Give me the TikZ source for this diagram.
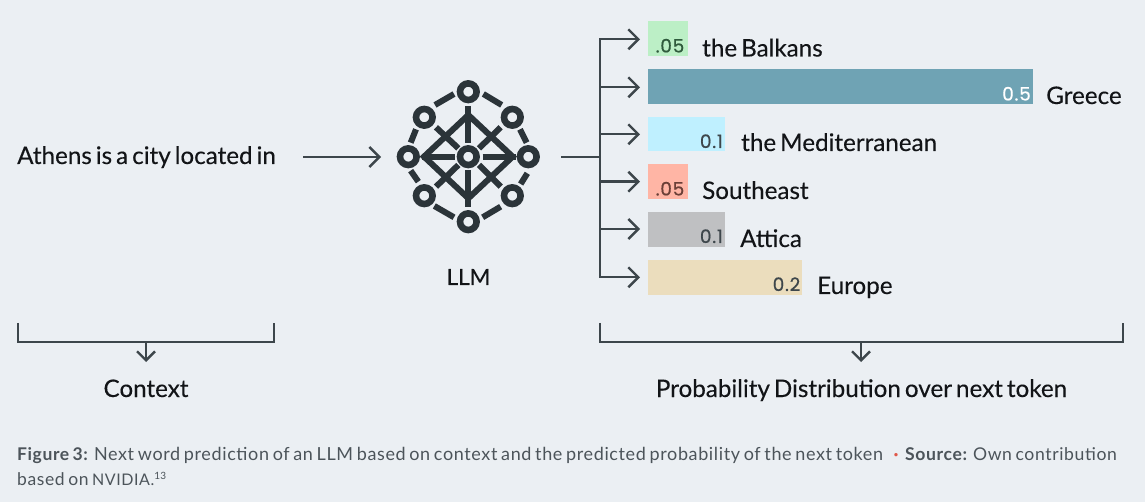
\documentclass[tikz,border=0pt]{standalone}
\usepackage{fontspec}
\setmainfont{Lato}
\newfontfamily\valfont[FakeBold=0.6,LetterSpace=4]{Poppins}
\newfontfamily\lblfont[FakeBold=0.2,WordSpace=0.65]{Lato}
\newfontfamily\capfont[LetterSpace=3.5,WordSpace=0.7]{Lato}
\usetikzlibrary{arrows.meta}
\definecolor{bgc}{HTML}{EBEFF3}
\definecolor{linec}{HTML}{3D464B}
\definecolor{iconc}{HTML}{2B3439}
\definecolor{capc}{HTML}{4C545A}
\definecolor{txtc}{HTML}{121417}
\definecolor{barA}{HTML}{BCEFC6}
\definecolor{barB}{HTML}{6FA3B4}
\definecolor{barC}{HTML}{BFF0FF}
\definecolor{barD}{HTML}{FFB5A5}
\definecolor{barE}{HTML}{BFC0C2}
\definecolor{barF}{HTML}{EBDDBD}
\definecolor{valA}{HTML}{2F5A3C}
\definecolor{valC}{HTML}{3D464B}
\definecolor{valD}{HTML}{6B3F37}
\definecolor{dotc}{HTML}{E0584A}
\tikzset{
  conn/.style={draw=linec,line width=2.4pt,line join=miter},
  arrowline/.style={conn,-{Straight Barb[length=10pt,width=20pt,line width=2.4pt]}},
  arrowsmall/.style={conn,-{Straight Barb[length=9pt,width=18pt,line width=2.4pt]}},
  lbl/.style={anchor=base west,inner sep=0pt,text=txtc,font=\lblfont\fontsize{24.2}{28}\selectfont},
  lblc/.style={anchor=base,inner sep=0pt,text=txtc,font=\lblfont\fontsize{24.2}{28}\selectfont},
  barbox/.style={anchor=north west,inner sep=0pt,outer sep=0pt,draw=none,minimum height=34.8pt},
  val/.style={anchor=base east,inner sep=0pt,font=\valfont\fontsize{18.5}{20}\selectfont},
  capt/.style={anchor=base west,inner sep=0pt,text=capc,font=\capfont\fontsize{18}{20}\selectfont},
  ring/.style={circle,draw=iconc,line width=6.6pt,minimum size=16.6pt,inner sep=0pt},
  spoke/.style={draw=iconc,line width=6pt},
}
\begin{document}
\begin{tikzpicture}[x=1pt,y=-1pt]
\fill[bgc] (0,0) rectangle (1145,502);
\useasboundingbox (0,0) rectangle (1145,502);

% context
\node[lbl] (ctx) at (17,164) {Athens is a city located in};
\coordinate (ctxend) at (303,157);
\coordinate (llmin) at (381,157);
\draw[arrowline] (ctxend) -- (llmin);

% icon
\node[ring] (rC) at (468.3,156.7) {};
\node[ring] (rT) at (468.3,91.7) {};
\node[ring] (rB) at (468.3,221.7) {};
\node[ring] (rL) at (408.3,156.7) {};
\node[ring] (rR) at (528.3,156.7) {};
\node[ring] (rNW) at (424.3,117.3) {};
\node[ring] (rNE) at (512.3,117.3) {};
\node[ring] (rSW) at (424.3,195.7) {};
\node[ring] (rSE) at (512.3,195.7) {};
\begin{scope}[shift={(380,70)},x=0.3333pt,y=-0.3333pt]
 \draw[spoke] (165,105)--(222,72);
 \draw[spoke] (310,72)--(365,105);
 \draw[spoke] (420,178)--(440,218);
 \draw[spoke] (442,310)--(422,342);
 \draw[spoke] (362,410)--(308,442);
 \draw[spoke] (222,442)--(163,408);
 \draw[spoke] (92,302)--(115,335);
 \draw[spoke] (108,178)--(92,218);
 \draw[spoke,line join=miter] (132,260)--(265,135)--(398,260)--(265,385)--cycle;
 \draw[spoke] (265,108)--(265,218);
 \draw[spoke] (265,300)--(265,410);
 \draw[spoke] (125,260)--(225,260);
 \draw[spoke] (308,260)--(407,260);
 \draw[spoke] (168,172)--(235,235);
 \draw[spoke] (362,172)--(297,235);
 \draw[spoke] (168,350)--(235,285);
 \draw[spoke] (362,350)--(297,285);
\end{scope}
\node[lblc,font=\lblfont\fontsize{22.3}{26}\selectfont] (llm) at (468.5,285) {LLM};

% bars
\node[barbox,fill=barA,minimum width=39.5pt] (b1) at (648,21) {};
\node[barbox,fill=barB,minimum width=385pt] (b2) at (648,69) {};
\node[barbox,fill=barC,minimum width=77.3pt] (b3) at (648,116.7) {};
\node[barbox,fill=barD,minimum width=39.5pt] (b4) at (648,164.3) {};
\node[barbox,fill=barE,minimum width=77.3pt] (b5) at (648,212) {};
\node[barbox,fill=barF,minimum width=154.3pt] (b6) at (648,260) {};

\node[val,text=valA] (v1) at (684.5,52.5) {.05};
\node[val,text=white] (v2) at (1031,100.5) {0.5};
\node[val,text=valC] (v3) at (723,148) {0.1};
\node[val,text=valD] (v4) at (684.5,195.5) {.05};
\node[val,text=valC] (v5) at (723,243) {0.1};
\node[val,text=valC] (v6) at (800.5,291) {0.2};

\node[lbl] (l1) at (702,56.5) {the Balkans};
\node[lbl] (l2) at (1046,104) {Greece};
\node[lbl] (l3) at (741,151) {the Mediterranean};
\node[lbl] (l4) at (702,199) {Southeast};
\node[lbl] (l5) at (740,247) {Attica};
\node[lbl] (l6) at (817,294) {Europe};

% tree
\coordinate (out) at (561,157);
\coordinate (hub) at (600,157);
\coordinate (s1) at (600,39.3);
\coordinate (s2) at (600,87.3);
\coordinate (s3) at (600,134.3);
\coordinate (s4) at (600,181.7);
\coordinate (s5) at (600,229);
\coordinate (s6) at (600,277.3);
\coordinate (t1) at (640,39.3);
\coordinate (t2) at (640,87.3);
\coordinate (t3) at (640,134.3);
\coordinate (t4) at (640,181.7);
\coordinate (t5) at (640,229);
\coordinate (t6) at (640,277.3);
\draw[conn] (out) -- (hub);
\draw[arrowline] (s1) -- (t1);
\draw[arrowline] (s2) -- (t2);
\draw[arrowline] (s3) -- (t3);
\draw[arrowline] (s4) -- (t4);
\draw[arrowline] (s5) -- (t5);
\draw[arrowline] (s6) -- (t6);
\draw[conn,line cap=rect] (s1) -- (s6);

% brackets
\coordinate (ba) at (18,323);
\coordinate (bb) at (18,341.7);
\coordinate (bc) at (274,341.7);
\coordinate (bd) at (274,323);
\coordinate (bm) at (146,341.7);
\coordinate (bn) at (146,362);
\draw[conn] (ba) -- (bb) -- (bc) -- (bd);
\draw[arrowsmall] (bm) -- (bn);
\node[lblc] (ctxl) at (146,397) {Context};

\coordinate (ca) at (600,323);
\coordinate (cb) at (600,341.7);
\coordinate (cc) at (1123,341.7);
\coordinate (cd) at (1123,323);
\coordinate (cm) at (861,341.7);
\coordinate (cn) at (861,362);
\draw[conn] (ca) -- (cb) -- (cc) -- (cd);
\draw[arrowsmall] (cm) -- (cn);
\node[lblc] (prob) at (861.5,397) {Probability Distribution over next token};

% caption
\node[capt] (c1) at (17,460) {{\fontsize{17.5}{20}\selectfont\textbf{Figure 3:}} Next word prediction of an LLM based on context and the predicted probability of the next token};
\node[capt,text=dotc,font=\bfseries\fontsize{18}{20}\selectfont] (dot) at (893.5,460) {·};
\node[capt,font=\capfont\fontsize{17.6}{20}\selectfont] (c2) at (905,460) {\textbf{Source:} Own contribution};
\node[capt,font=\capfont\fontsize{17.5}{20}\selectfont] (c3) at (17,485) {based on {\fontsize{16}{20}\selectfont NVIDIA.}\raisebox{6pt}{\fontsize{10}{12}\selectfont 13}};
\end{tikzpicture}
\end{document}
